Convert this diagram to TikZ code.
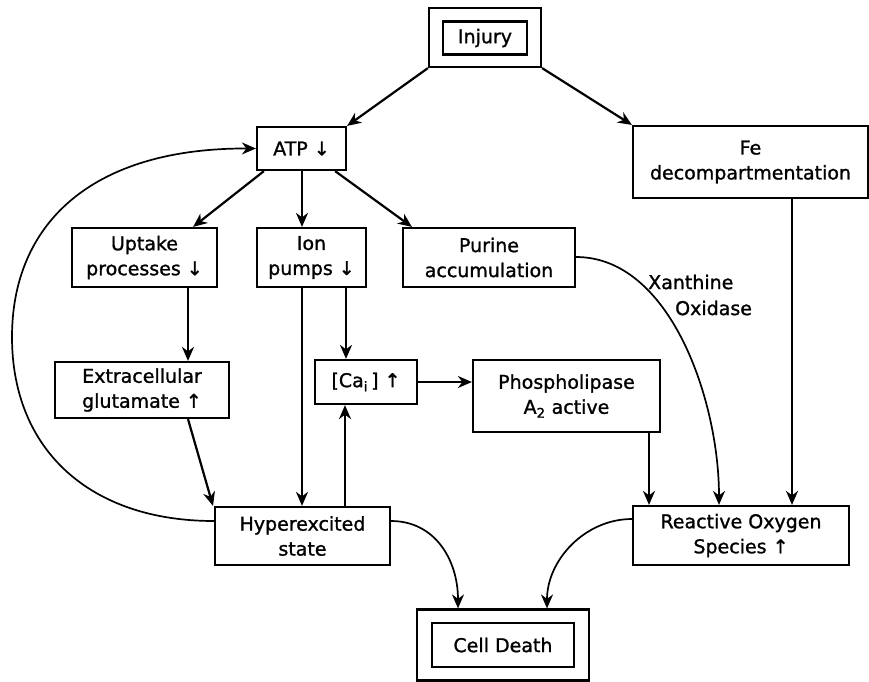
\documentclass[tikz,border=0pt]{standalone}
\usepackage{fontspec}
\newfontfamily\bx[FakeBold=1.2]{DejaVu Sans}
\usetikzlibrary{arrows.meta,calc}
\tikzset{
  box/.style={draw, line width=2.2pt, align=center, inner sep=0pt,
    font=\bx\fontsize{19}{25}\selectfont},
  frame/.style={draw, line width=2.2pt, inner sep=0pt},
  arr/.style={line width=2.2pt, -{Stealth[length=14pt,width=12pt,inset=4.5pt]}},
  carr/.style={line width=1.7pt, -{Stealth[length=14pt,width=12pt,inset=4.5pt]}},
  lbl/.style={font=\bx\fontsize{19}{25}\selectfont, inner sep=0pt}
}
\begin{document}
\begin{tikzpicture}[x=1pt,y=-1pt]
\useasboundingbox (0,0) rectangle (869,681);
% boxes
\node[frame, minimum width=112, minimum height=59] (injO) at (485,37.5) {};
\node[box, minimum width=84, minimum height=33] (inj) at (485,38) {Injury};
\node[box, minimum width=89, minimum height=43] (atp) at (301.5,148.5) {ATP ↓};
\node[box, minimum width=235, minimum height=72] (fe) at (750.5,162) {Fe\\decompartmentation};
\node[box, minimum width=145, minimum height=59] (up) at (144.5,257.5) {Uptake\\processes ↓};
\node[box, minimum width=109, minimum height=59] (ion) at (311.5,257.5) {Ion\\pumps ↓};
\node[box, minimum width=172, minimum height=59] (pur) at (489,257.5) {Purine\\accumulation};
\node[box, minimum width=174, minimum height=56] (ext) at (142,390) {Extracellular\\glutamate ↑};
\node[box, minimum width=102, minimum height=44] (ca) at (366,382) {[Ca\textsubscript{i}\,] ↑};
\node[box, minimum width=187, minimum height=72] (pho) at (566.5,396) {Phospholipase\\A\textsubscript{2} active};
\node[box, minimum width=175, minimum height=58] (hyp) at (302.5,536) {Hyperexcited\\state};
\node[box, minimum width=216, minimum height=59] (ros) at (741,535.5) {Reactive Oxygen\\Species ↑};
\node[frame, minimum width=172, minimum height=71] (cdO) at (503,645) {};
\node[box, minimum width=142, minimum height=44] (cd) at (503,645) {Cell Death};
% labels
\node[lbl, anchor=west] (xa) at (648,282) {Xanthine};
\node[lbl, anchor=west] (xo) at (675,308) {Oxidase};
% arrows
\draw[arr] (injO.south west) -- (atp.north east);
\draw[arr] (injO.south east) -- (fe.north west);
\draw[arr] ($(atp.south west)+(8,0)$) -- ($(up.north east)+(-25,0)$);
\draw[arr] (302,0 |- atp.south) -- (302,0 |- ion.north);
\draw[arr] ($(atp.south east)+(-12,0)$) -- ($(pur.north west)+(10,0)$);
\draw[arr] (188,0 |- up.south) -- (188,0 |- ext.north);
\draw[arr] (302,0 |- ion.south) -- (302,0 |- hyp.north);
\draw[arr] (346,0 |- ion.south) -- (346,0 |- ca.north);
\draw[arr] (345,0 |- hyp.north) -- (345,0 |- ca.south);
\draw[arr] (188,0 |- ext.south) -- (213,0 |- hyp.north);
\draw[arr] (ca.east) -- (pho.west |- ca.east);
\draw[arr] (649,0 |- pho.south) -- (649,0 |- ros.north);
\draw[arr] (792,0 |- fe.south) -- (792,0 |- ros.north);
% curves
\draw[carr] (hyp.west |- 0,521) .. controls (90,521) and (12,450) .. (12,337)
  .. controls (12,225) and (90,148) .. (atp.west);
\draw[carr] (pur.east |- 0,257) .. controls (670,257) and (719,400) .. (719,0 |- ros.north);
\draw[carr] (hyp.east |- 0,521) .. controls (435,521) and (458,560) .. (458,0 |- cdO.north);
\draw[carr] (ros.west |- 0,519) .. controls (585,519) and (547,560) .. (547,0 |- cdO.north);
\end{tikzpicture}
\end{document}
